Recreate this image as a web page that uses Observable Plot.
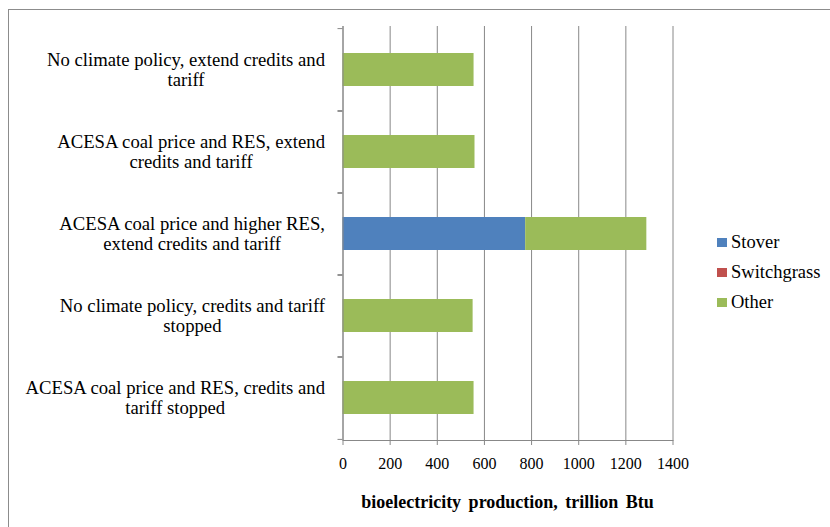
<!DOCTYPE html>
<html>
<head>
<meta charset="utf-8">
<script src="https://cdn.jsdelivr.net/npm/d3@7"></script>
<script src="https://cdn.jsdelivr.net/npm/@observablehq/plot@0.6"></script>
<style>
  html, body { margin: 0; padding: 0; background: #fff; }
  #chart { position: relative; width: 830px; height: 527px; overflow: hidden; font-family: 'Liberation Serif', serif; color: #000; }
  #frame { position: absolute; left: 8px; top: 9px; width: 900px; height: 600px; border: 1px solid #8c8c8c; box-sizing: border-box; }
  #plot { position: absolute; left: 0; top: 0; }
  #title { position: absolute; left: 342px; width: 331px; top: 492px; text-align: center; font-weight: bold; font-size: 18px; word-spacing: 3px; white-space: nowrap; line-height: 20px; }
  #legend { position: absolute; left: 717px; top: 227px; font-size: 18.5px; }
  #legend .row { height: 30px; display: flex; align-items: center; white-space: nowrap; }
  #legend .sw { width: 10px; height: 9px; margin-right: 4px; }
</style>
</head>
<body>
<div id="chart">
  <div id="frame"></div>
  <div id="plot"></div>
  <div id="title"></div>
  <div id="legend"></div>
</div>
<script>
// Scenarios, top to bottom
const scenarios = [
  "No climate policy, extend credits and\ntariff",
  "ACESA coal price and RES, extend\ncredits and tariff",
  "ACESA coal price and higher RES,\nextend credits and tariff",
  "No climate policy, credits and tariff\nstopped",
  "ACESA coal price and RES, credits and\ntariff stopped"
];

// Feedstock series (trillion Btu)
const seriesNames = ["Stover", "Switchgrass", "Other"];
const seriesColors = ["#4f81bd", "#c0504d", "#9bbb59"];
const stover      = [0, 0, 775, 0, 0];
const switchgrass = [0, 0, 0, 0, 0];
const other       = [556, 560, 514, 552, 556];

const xTicks = [0, 200, 400, 600, 800, 1000, 1200, 1400];
const xLabel = "bioelectricity production, trillion Btu";

const rows = [];
scenarios.forEach((s, i) => {
  rows.push({scenario: s, series: "Stover", value: stover[i]});
  rows.push({scenario: s, series: "Switchgrass", value: switchgrass[i]});
  rows.push({scenario: s, series: "Other", value: other[i]});
});

const W = 830, H = 480;
const mTop = 26, mBottom = 40, mLeft = 342.5, mRight = 157.5;
const step = (H - mTop - mBottom) / scenarios.length;
const grey = "#888888";
const serif = "'Liberation Serif', serif";

const chart = Plot.plot({
  width: W,
  height: H,
  marginTop: mTop,
  marginBottom: mBottom,
  marginLeft: mLeft,
  marginRight: mRight,
  style: {fontFamily: serif, background: "transparent", overflow: "visible"},
  x: {domain: [0, 1400], ticks: xTicks, tickFormat: d3.format("d")},
  y: {domain: scenarios, paddingInner: 0.6, paddingOuter: 0.3},
  color: {domain: seriesNames, range: seriesColors},
  marks: [
    Plot.gridX(xTicks, {stroke: grey, strokeOpacity: 1}),
    Plot.barX(rows, Plot.stackX({y: "scenario", x: "value", fill: "series", order: seriesNames})),
    Plot.ruleX([0], {stroke: grey}),
    Plot.frame({anchor: "bottom", stroke: grey}),
    Plot.axisX(xTicks, {tickSize: 5, tickPadding: 12, stroke: grey, fontSize: 16, fill: "#000", fontFamily: serif, tickFormat: d3.format("d"), label: null}),
    Plot.axisY({tickSize: 0, tickPadding: 18, fontSize: 18.7, fill: "#000", fontFamily: serif, lineHeight: 1.07, label: null}),
    Plot.axisY({text: null, tickSize: 5, stroke: grey, dy: -step / 2, label: null}),
    Plot.axisY({text: null, tickSize: 5, stroke: grey, dy: step / 2, label: null})
  ]
});

document.getElementById("plot").appendChild(chart);

// Center each wrapped line of a category label within its right-aligned block
chart.querySelectorAll("g[aria-label='y-axis tick label'] text").forEach(t => {
  const spans = Array.from(t.querySelectorAll("tspan"));
  if (!spans.length) return;
  const w = Math.max(...spans.map(s => s.getComputedTextLength()));
  t.setAttribute("text-anchor", "middle");
  spans.forEach(s => s.setAttribute("x", -w / 2));
});

document.getElementById("title").textContent = xLabel;

const legend = document.getElementById("legend");
seriesNames.forEach((name, i) => {
  const row = document.createElement("div");
  row.className = "row";
  const sw = document.createElement("div");
  sw.className = "sw";
  sw.style.background = seriesColors[i];
  const label = document.createElement("span");
  label.textContent = name;
  row.appendChild(sw);
  row.appendChild(label);
  legend.appendChild(row);
});
</script>
</body>
</html>
